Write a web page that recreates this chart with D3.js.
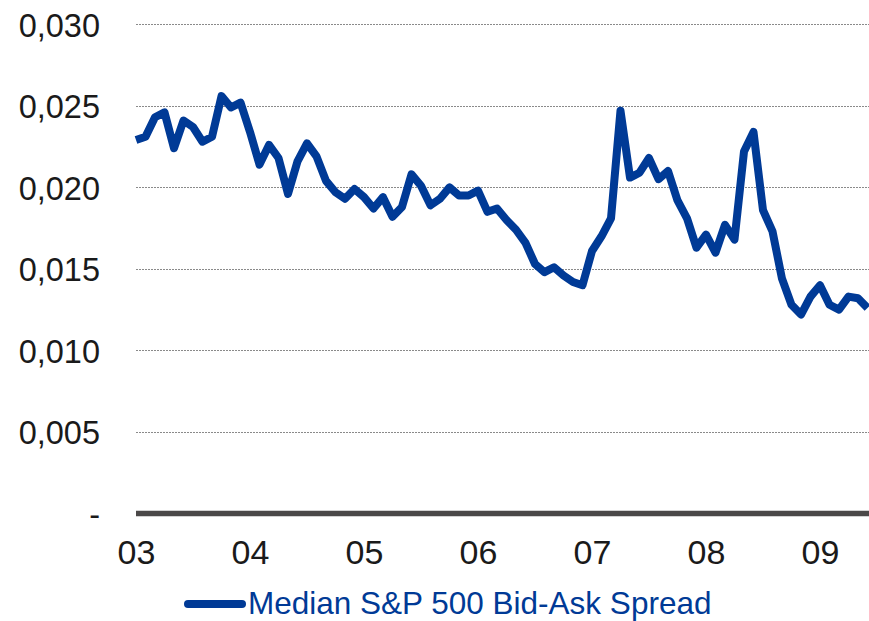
<!DOCTYPE html>
<html><head><meta charset="utf-8">
<script src="https://cdn.jsdelivr.net/npm/d3@7/dist/d3.min.js"></script>
<style>body{margin:0;background:#fff}svg{display:block}</style>
</head><body>
<script>
const startYear = 2003;
const values = [
 0.0229,0.0231,0.0243,0.0246,0.0224,0.0241,0.0237,0.0228,0.0231,0.0256,0.0249,0.0252,
 0.0234,0.0214,0.0226,0.0218,0.0196,0.0216,0.0227,0.0219,0.0204,0.0197,0.0193,0.0199,
 0.0194,0.0187,0.0194,0.0182,0.0188,0.0208,0.0201,0.0189,0.0193,0.0200,0.0195,0.0195,
 0.0198,0.0185,0.0187,0.0180,0.0174,0.0166,0.0153,0.0148,0.0151,0.0146,0.0142,0.0140,
 0.0161,0.0170,0.0181,0.0247,0.0206,0.0209,0.0218,0.0205,0.0210,0.0192,0.0181,0.0163,
 0.0171,0.0160,0.0177,0.0168,0.0222,0.0234,0.0186,0.0173,0.0144,0.0128,0.0122,0.0133,
 0.0140,0.0128,0.0125,0.0133,0.0132,0.0126
];
const yTicks = [0, 0.005, 0.010, 0.015, 0.020, 0.025, 0.030];
const yTickLabels = ["-", "0,005", "0,010", "0,015", "0,020", "0,025", "0,030"];
const xTicks = [0,1,2,3,4,5,6];
const xTickLabels = ["03","04","05","06","07","08","09"];
const seriesName = "Median S&P 500 Bid-Ask Spread";

const W = 869, H = 621;
const svg = d3.select("body").append("svg").attr("width", W).attr("height", H);
const mLeft = 136, mRight = 869, mTop = 24.3, mBottom = 513.5;
const x = d3.scaleLinear().domain([0, 77/12]).range([mLeft, mLeft + 114*77/12]);
const y = d3.scaleLinear().domain([0, 0.030]).range([mBottom, mTop]);

// gridlines
svg.append("g").selectAll("line").data(yTicks.filter(d => d > 0)).join("line")
  .attr("x1", mLeft).attr("x2", mRight)
  .attr("y1", d => Math.round(y(d)) + 0.5).attr("y2", d => Math.round(y(d)) + 0.5)
  .attr("stroke", "#8a8a8a").attr("stroke-width", 1).attr("stroke-dasharray", "2,1");

// y labels
const yAxis = d3.axisLeft(y).tickValues(yTicks).tickFormat((d, i) => yTickLabels[i]).tickSize(0).tickPadding(0);
const gy = svg.append("g").attr("transform", "translate(100,0)").call(yAxis);
gy.select(".domain").remove();
gy.selectAll("text").attr("font-family", "Liberation Sans, Arial, sans-serif").attr("font-size", 32.5).attr("fill", "#1a1a1a")
  .attr("dy", "0.36em");

// line
const line = d3.line().x((d, i) => x(i / 12)).y(d => y(d));
svg.append("path").datum(values).attr("d", line).attr("fill", "none")
  .attr("stroke", "#003a96").attr("stroke-width", 8).attr("stroke-linejoin", "round");

// baseline
svg.append("line").attr("x1", mLeft).attr("x2", mRight).attr("y1", mBottom).attr("y2", mBottom)
  .attr("stroke", "#4b4848").attr("stroke-width", 5.5);

// x labels
const xAxis = d3.axisBottom(x).tickValues(xTicks).tickFormat((d, i) => xTickLabels[i]).tickSize(0).tickPadding(0);
const gx = svg.append("g").attr("transform", "translate(0,552)").call(xAxis);
gx.select(".domain").remove();
gx.selectAll("text").attr("font-family", "Liberation Sans, Arial, sans-serif").attr("font-size", 34).attr("fill", "#1a1a1a")
  .attr("dy", "0.36em").attr("y", 0);

// legend
const lg = svg.append("g");
lg.append("line").attr("x1", 188).attr("x2", 242).attr("y1", 604).attr("y2", 604)
  .attr("stroke", "#003a96").attr("stroke-width", 8).attr("stroke-linecap", "round");
lg.append("text").attr("x", 248).attr("y", 603).attr("dy", "0.36em").text(seriesName)
  .attr("font-family", "Liberation Sans, Arial, sans-serif").attr("font-size", 31.5).attr("fill", "#003a96");
</script>
</body></html>
